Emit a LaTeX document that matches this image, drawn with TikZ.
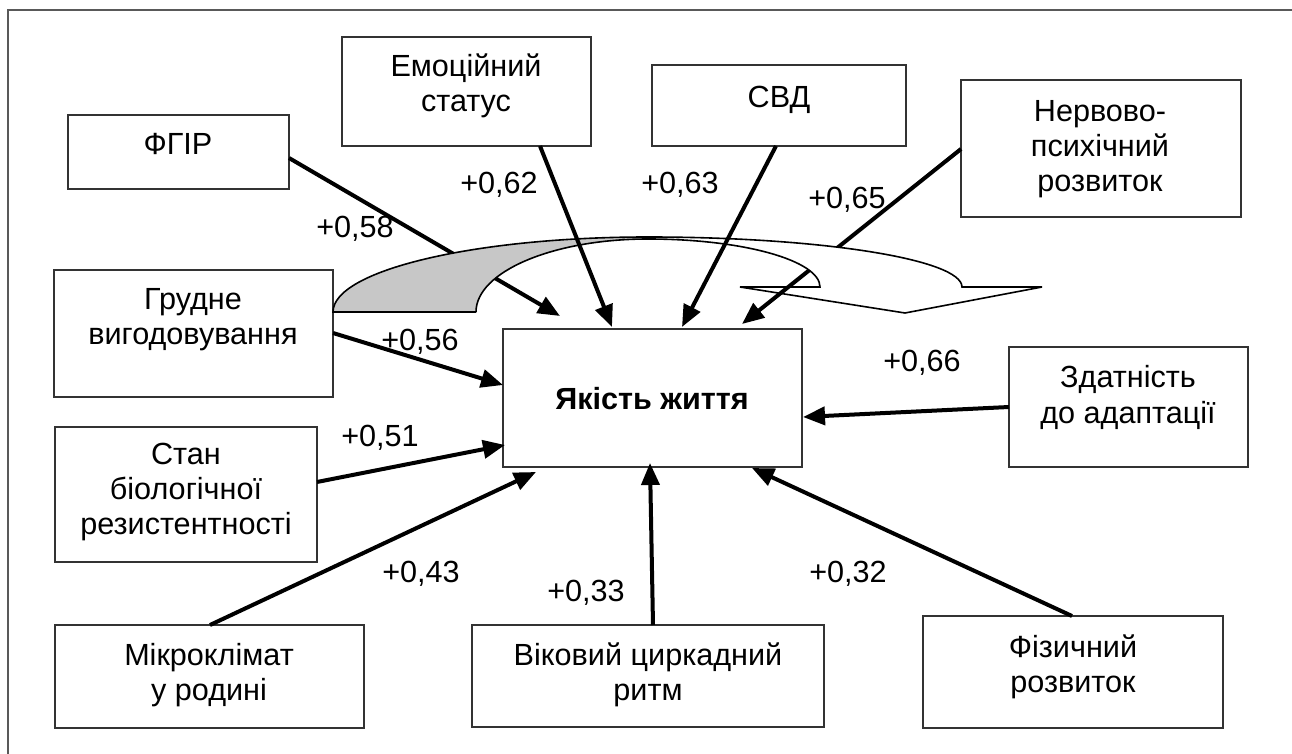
\documentclass[tikz,border=0pt]{standalone}
\usepackage{fontspec}
\setmainfont{Liberation Sans}
\usetikzlibrary{arrows.meta}
\newcommand\mlines[1]{\parbox[t]{200pt}{\centering\fontsize{15.3}{17.5}\selectfont #1}}
\tikzset{
  boxnode/.style={draw=black!80, line width=1pt, inner sep=0pt, fill=none},
  txt/.style={inner sep=0pt, anchor=base},
  lab/.style={inner sep=0pt, anchor=base, font=\fontsize{15.3}{17.5}\selectfont},
  conn/.style={line width=2pt, -{Triangle[length=11pt,width=9pt]}},
  frameline/.style={draw=black!65, line width=1pt},
  band/.style={draw=black, line width=0.8pt, line join=miter}
}
\begin{document}
\begin{tikzpicture}[x=0.5pt,y=-0.5pt]
\useasboundingbox (0,0) rectangle (1292,754);
\fill[white] (0,0) rectangle (1292,754);
% outer frame
\coordinate (fr1) at (8,754);
\coordinate (fr2) at (8,10);
\coordinate (fr3) at (1292,10);
\draw[frameline] (fr1) -- (fr2) -- (fr3);

% boxes
\node[boxnode, minimum width=110.5pt, minimum height=37pt]   (fgir)  at (178.5,152) {};
\node[boxnode, minimum width=124.5pt, minimum height=54.5pt] (emo)   at (466.5,91.5) {};
\node[boxnode, minimum width=127pt,   minimum height=40.5pt] (svd)   at (779,105.5) {};
\node[boxnode, minimum width=140pt,   minimum height=68.5pt] (nerv)  at (1101,148.5) {};
\node[boxnode, minimum width=139.5pt, minimum height=63.5pt] (grud)  at (193.5,333.5) {};
\node[boxnode, minimum width=131pt,   minimum height=67.5pt] (stan)  at (186,494.5) {};
\node[boxnode, minimum width=149.5pt, minimum height=69pt]   (yak)   at (652.5,398) {};
\node[boxnode, minimum width=119.5pt, minimum height=60pt]   (zdat)  at (1128.5,407) {};
\node[boxnode, minimum width=154.5pt, minimum height=51.5pt] (mikro) at (209.5,676.5) {};
\node[boxnode, minimum width=176pt,   minimum height=51pt]   (vik)   at (648,676) {};
\node[boxnode, minimum width=150pt,   minimum height=56pt]   (fiz)   at (1073,672) {};

% texts
\node[txt] (fgir-t)  at (178,155)  {\mlines{ФГІР}};
\node[txt] (emo-t)   at (466,77)   {\mlines{Емоційний\\статус}};
\node[txt] (svd-t)   at (779,108)  {\mlines{СВД}};
\node[txt] (nerv-t)  at (1100,122) {\mlines{Нервово-\\психічний\\розвиток}};
\node[txt] (grud-t)  at (193,310)  {\mlines{Грудне\\вигодовування}};
\node[txt] (stan-t)  at (186,465)  {\mlines{Стан\\біологічної\\резистентності}};
\node[txt] (yak-t)   at (652,410)  {\mlines{\bfseries Якість життя}};
\node[txt] (zdat-t)  at (1128,388) {\mlines{Здатність\\до адаптації}};
\node[txt] (mikro-t) at (209,665)  {\mlines{Мікроклімат\\у родині}};
\node[txt] (vik-t)   at (648,665)  {\mlines{Віковий циркадний\\ритм}};
\node[txt] (fiz-t)   at (1073,657) {\mlines{Фізичний\\розвиток}};

% connector end points
\coordinate (fgir-o)  at (289,158);  \coordinate (fgir-i)  at (560,316);
\coordinate (emo-o)   at (540,146);  \coordinate (emo-i)   at (612,327);
\coordinate (svd-o)   at (776,146);  \coordinate (svd-i)   at (682,327);
\coordinate (nerv-o)  at (961,149);  \coordinate (nerv-i)  at (742,324);
\coordinate (grud-o)  at (333,333);  \coordinate (grud-i)  at (503,385);
\coordinate (stan-o)  at (317,482);  \coordinate (stan-i)  at (505,445);
\coordinate (zdat-o)  at (1009,407); \coordinate (zdat-i)  at (803,417);
\coordinate (mikro-o) at (210,625);  \coordinate (mikro-i) at (536,472);
\coordinate (vik-o)   at (653,625);  \coordinate (vik-i)   at (650,463);
\coordinate (fiz-o)   at (1072,616); \coordinate (fiz-i)   at (752,468);

% arrows beneath the curved band
\draw[conn] (fgir-o) -- (fgir-i);
\draw[conn] (nerv-o) -- (nerv-i);

% curved band arrow
\coordinate (aL) at (333,312);
\coordinate (aP) at (648,237);
\coordinate (aR) at (962,287);
\coordinate (bL) at (476,312);
\coordinate (bP) at (648,239);
\coordinate (bR) at (820,287);
\coordinate (hL) at (740,287);
\coordinate (hR) at (1042,287);
\coordinate (hT) at (905,313);
\fill[black!22] (aL) -- (bL) .. controls (476,271.7) and (553,239) .. (bP)
  -- (aP) .. controls (474,237) and (333,270.6) .. (aL) -- cycle;
\fill[white] (aP) .. controls (821,237) and (962,259.4) .. (aR) -- (bR)
  .. controls (820,260.5) and (743,239) .. (bP) -- cycle;
\draw[band] (bL) -- (aL) .. controls (333,270.6) and (474,237) .. (aP)
  .. controls (821,237) and (962,259.4) .. (aR) -- (hR) -- (hT) -- (hL) -- (bR)
  .. controls (820,260.5) and (743,239) .. (bP)
  .. controls (553,239) and (476,271.7) .. (bL);

% arrows above the band
\draw[conn] (emo-o) -- (emo-i);
\draw[conn] (svd-o) -- (svd-i);
\draw[conn] (grud-o) -- (grud-i);
\draw[conn] (stan-o) -- (stan-i);
\draw[conn] (zdat-o) -- (zdat-i);
\draw[conn] (mikro-o) -- (mikro-i);
\draw[conn] (vik-o) -- (vik-i);
\draw[conn] (fiz-o) -- (fiz-i);

% labels
\node[lab] (l58) at (355,238) {+0,58};
\node[lab] (l62) at (499,194) {+0,62};
\node[lab] (l63) at (680,194) {+0,63};
\node[lab] (l65) at (847,209) {+0,65};
\node[lab] (l56) at (420,351) {+0,56};
\node[lab] (l51) at (380,447) {+0,51};
\node[lab] (l66) at (922,372) {+0,66};
\node[lab] (l43) at (421,582) {+0,43};
\node[lab] (l33) at (586,601) {+0,33};
\node[lab] (l32) at (848,582) {+0,32};
\end{tikzpicture}
\end{document}
